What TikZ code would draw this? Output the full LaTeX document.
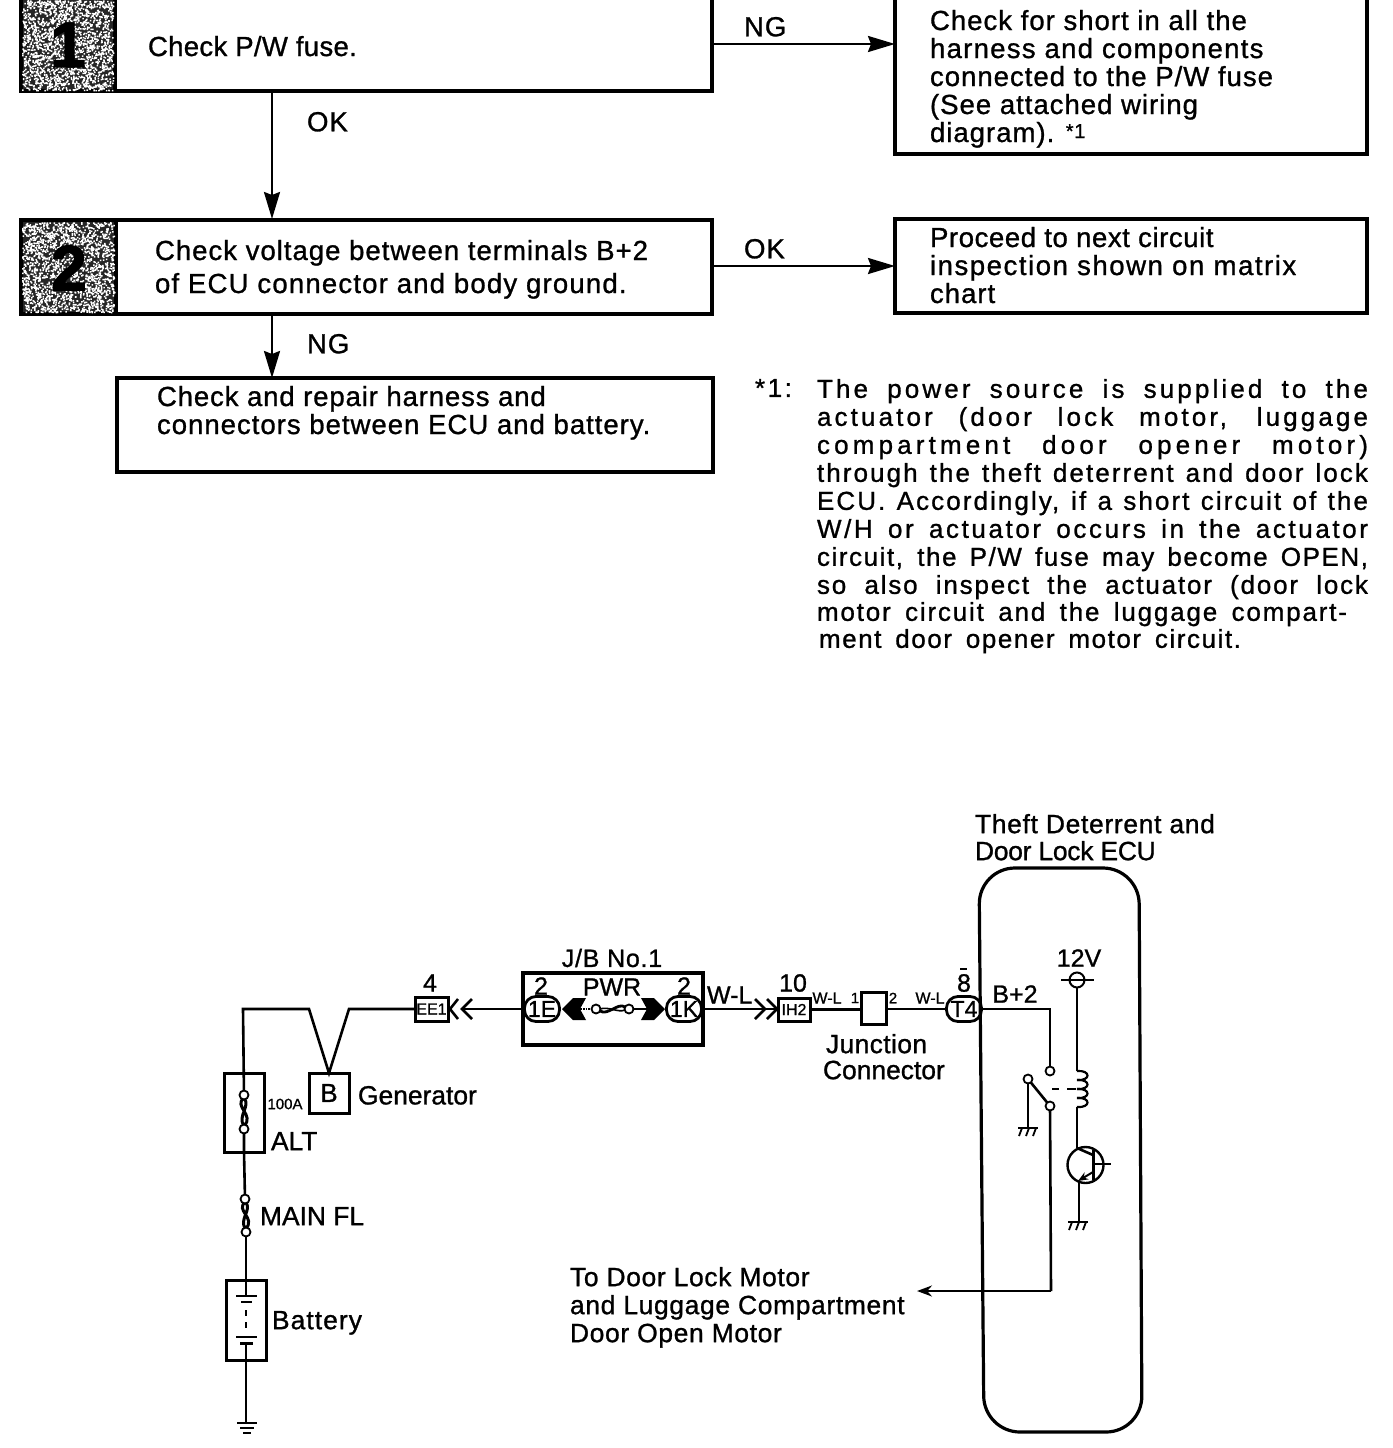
\documentclass[tikz,border=0pt]{standalone}
\usepackage{fontspec}
\setmainfont[FakeBold=1.0]{Liberation Sans}
\usetikzlibrary{arrows.meta}
\newcommand{\jl}[3][551pt]{\makebox[#1][s]{\addfontfeature{LetterSpace=#2}#3}}
\newcommand{\trk}[2]{{\addfontfeature{LetterSpace=#1}#2}}
\newcommand{\vfuse}[3]{\draw[fusecurve] (#1,#2) .. controls (#1-11,#2+8) and (#1+11,#3-11) .. (#1,#3) (#1,#2) .. controls (#1+7,#2+8) and (#1-7,#3-10) .. (#1,#3);}
\newcommand{\hatchg}[2]{\draw[thin wire] (#1-10,#2) -- (#1+10,#2);
  \foreach \d in {-6,1,8}{\draw[thin wire] (#1+\d,#2) -- (#1+\d-3,#2+8);}}
\newcommand{\speckle}[4]{\fill[white] \foreach \i in {1,...,#4} { ({#1+(#2)*rnd},{#3+90*rnd}) rectangle +(1.5,1.5) };}
\tikzset{
  x=1pt,y=-1pt,
  every node/.style={outer sep=0pt},
  wire/.style={line width=2.6pt},
  thin wire/.style={line width=1.8pt},
  fusecurve/.style={line width=3pt},
  flow/.style={line width=2.4pt,-{Stealth[length=27pt,width=16pt,inset=3pt]}},
  flowbox/.style={draw,line width=3.2pt,rectangle,inner sep=0pt,anchor=north west},
  greybox/.style={draw,line width=3.2pt,fill=black!85,rectangle,inner sep=0pt,anchor=north west},
  big/.style={inner sep=0pt,anchor=north west,align=left,font=\fontsize{27.6}{28}\selectfont\addfontfeature{LetterSpace=3.5}},
  lab/.style={inner sep=0pt,anchor=north west,align=left,font=\fontsize{26.4}{28}\selectfont},
  cen/.style={inner sep=0pt,font=\fontsize{25}{25}\selectfont},
  tiny/.style={inner sep=0pt,font=\fontsize{15}{15}\selectfont},
  conn/.style={draw,line width=3pt,rectangle,inner sep=0pt,font=\fontsize{16}{16}\selectfont},
  oval/.style={draw,line width=2.8pt,rectangle,rounded corners=11.5pt,minimum width=35pt,minimum height=25pt,inner sep=0pt,font=\fontsize{23}{23}\selectfont},
  term/.style={draw,circle,line width=1.8pt,fill=white,minimum size=9pt,inner sep=0pt},
  digit/.style={inner sep=0pt,font=\fontsize{64}{64}\selectfont\bfseries\addfontfeature{FakeBold=2}},
}
\begin{document}
\begin{tikzpicture}
\useasboundingbox (0,0) rectangle (1392,1448);
\pgfmathsetseed{7}
% flow boxes
\node[flowbox,minimum width=691pt,minimum height=101pt] (box1) at (21,-10) {};
\node[greybox,minimum width=94pt,minimum height=101pt] (num1) at (21,-10) {};
\speckle{22}{91}{0}{2000}
\node[digit] (n1) at (68,45) {1};
\node[big,font=\fontsize{27.6}{28}\selectfont\addfontfeature{LetterSpace=1}] (t1) at (148,36) {Check P/W fuse.};
\node[flowbox,minimum width=472pt,minimum height=164pt] (res1) at (895,-10) {};
\node[big] (t1r) at (930,10) {Check for short in all the\\\trk{4.5}{harness and components}\\connected to the P/W fuse\\(See attached wiring\\diagram). {\fontsize{20}{20}\selectfont\raisebox{4pt}{*1}}};
\node[flowbox,minimum width=691pt,minimum height=94pt] (box2) at (21,220) {};
\node[greybox,minimum width=95pt,minimum height=94pt] (num2) at (21,220) {};
\speckle{22}{92}{222}{2000}
\node[digit] (n2) at (69,268) {2};
\node[big,font=\fontsize{27.6}{33}\selectfont\addfontfeature{LetterSpace=3.5}] (t2) at (155,240) {Check voltage between terminals B+2\\\trk{4.2}{of ECU connector and body ground.}};
\node[flowbox,minimum width=472pt,minimum height=94pt] (res2) at (895,219) {};
\node[big] (t2r) at (930,227) {\trk{2}{Proceed to next circuit}\\\trk{5.5}{inspection shown on matrix}\\chart};
\node[flowbox,minimum width=596pt,minimum height=94pt] (box3) at (117,378) {};
\node[big] (t3) at (157,386) {\trk{3}{Check and repair harness and}\\connectors between ECU and battery.};
% flow arrows
\coordinate (a1s) at (272,91);
\coordinate (a1e) at (272,219);
\coordinate (a2s) at (272,314);
\coordinate (a2e) at (272,378);
\coordinate (a3s) at (712,44);
\coordinate (a3e) at (895,44);
\coordinate (a4s) at (712,266);
\coordinate (a4e) at (895,266);
\draw[flow] (a1s) -- (a1e);
\draw[flow] (a2s) -- (a2e);
\draw[flow] (a3s) -- (a3e);
\draw[flow] (a4s) -- (a4e);
\node[big] (l1) at (307,112) {OK};
\node[big] (l2) at (307,334) {NG};
\node[big] (l3) at (744,17) {NG};
\node[big] (l4) at (744,239) {OK};
% footnote
\node[big,font=\fontsize{26}{28}\selectfont] (fnm) at (755,379) {\addfontfeature{LetterSpace=10}*1:};
\node[big,font=\fontsize{26}{28}\selectfont] (fn) at (817,379) {%
\jl{12}{The power source is supplied to the}\\
\jl{12}{actuator (door lock motor, luggage}\\
\jl{16}{compartment door opener motor)}\\
\jl{8}{through the theft deterrent and door lock}\\
\jl{8}{ECU. Accordingly, if a short circuit of the}\\
\jl{10}{W/H or actuator occurs in the actuator}\\
\jl{6}{circuit, the P/W fuse may become OPEN,}\\
\jl{7}{so also inspect the actuator (door lock}\\[-1pt]
\jl[530pt]{7}{motor circuit and the luggage compart-}\\[-1pt]
\hspace*{2pt}\jl[422pt]{6}{ment door opener motor circuit.}};
% wiring: left side
\node[lab] (ttl) at (975,814) {\trk{2.6}{Theft Deterrent and}\\[-1pt]\trk{-1}{Door Lock ECU}};
\coordinate (etl) at (979,868);
\coordinate (etr) at (1139,868);
\coordinate (ebr) at (1142,1432);
\coordinate (ebl) at (984,1432);
\draw[line width=3.2pt,rounded corners=36pt] (etl) -- (etr) -- (ebr) -- (ebl) -- cycle;
\node[conn,minimum width=40pt,minimum height=40pt,font=\fontsize{26}{26}\selectfont,anchor=north west] (gen) at (309,1073) {B};
\node[lab] (gent) at (358,1086) {Generator};
\node[conn,minimum width=40pt,minimum height=79pt,anchor=north west] (alt) at (224,1073) {};
\node[tiny] (a100) at (285,1104) {100A};
\node[lab] (altt) at (271,1132) {ALT};
\vfuse{244}{1098}{1126}
\node[term] (fa1) at (244,1095) {};
\node[term] (fa2) at (244,1129) {};
\vfuse{245.5}{1202}{1229}
\node[term] (fm1) at (245,1199) {};
\node[term] (fm2) at (246,1232) {};
\node[lab] (mft) at (260,1207) {MAIN FL};
\node[conn,minimum width=40pt,minimum height=80pt,anchor=north west] (bat) at (226,1280) {};
\node[lab] (batt) at (272,1311) {\trk{4}{Battery}};
\coordinate (wl) at (243,1009);
\coordinate (wv1) at (309,1009);
\coordinate (wv2) at (349,1009);
\draw[wire] (fa1) -- (wl) -- (wv1) -- (gen.north) -- (wv2) -- (415,1009);
\draw[wire] (fa2) -- (alt.south -| fa2) -- (fm1);
\draw[wire] (fm2) -- (bat.north);
\coordinate (pl1) at (246,1296);
\coordinate (pl2) at (246,1343);
\coordinate (gnd) at (246,1423);
\draw[wire] (bat.north) -- (pl1);
\draw[line width=2.4pt] (236,1296) -- (257,1296);
\draw[line width=2.4pt] (241,1302) -- (252,1302);
\draw[line width=1.6pt] (246,1310) -- (246,1316) (246,1322) -- (246,1328);
\draw[line width=2.4pt] (236,1337) -- (257,1337);
\draw[line width=3pt] (240,1343) -- (253,1343);
\draw[wire] (pl2) -- (gnd);
\draw[line width=2.2pt] (237,1423) -- (257,1423) (240,1428) -- (254,1428) (243,1433) -- (251,1433);
\node[conn,minimum width=33pt,minimum height=24pt] (ee1) at (431.5,1009) {EE1};
\node[cen] (n4) at (430,983) {4};
\coordinate (chl) at (462,1009);
\draw[wire] (458,999) -- (450,1009) -- (458,1019);
\draw[wire] (472,999) -- (chl) -- (472,1019);
% J/B
\node[cen] (jbt) at (612,958) {\trk{3}{J/B No.1}};
\node[draw,line width=3.2pt,rectangle,minimum width=180pt,minimum height=72pt,inner sep=0pt,anchor=north west] (jb) at (523,973) {};
\node[oval] (e1) at (542,1009) {1E};
\node[oval] (k1) at (684,1009) {1K};
\node[cen] (j21) at (541,986) {2};
\node[cen] (j22) at (684,986) {2};
\node[cen] (pwr) at (612,987) {PWR};
\draw[wire] (chl) -- (e1.west);
\fill (562,1009) -- (573,998) -- (586,998) -- (580,1009) -- (586,1020) -- (573,1020) -- cycle;
\fill (665,1009) -- (654,998) -- (641,998) -- (647,1009) -- (641,1020) -- (654,1020) -- cycle;
\node[term] (p1) at (596,1009) {};
\node[term] (p2) at (629,1009) {};
\draw[thin wire,densely dotted] (580,1009) -- (p1);
\draw[thin wire] (p2) -- (647,1009);
\draw[line width=2.8pt] (600,1011) .. controls (608,1016) and (618,1002) .. (625,1007);
\draw[line width=1.6pt] (600,1009) .. controls (608,1006) and (618,1013) .. (625,1010);
% right of J/B
\node[cen,anchor=west] (wl1) at (707,995) {W-L};
\coordinate (chr) at (777,1009);
\draw[wire] (jb.east |- chr) -- (chr);
\draw[wire] (755,999) -- (765,1009) -- (755,1019);
\draw[wire] (767,999) -- (chr) -- (767,1019);
\node[conn,minimum width=32pt,minimum height=23pt] (ih2) at (794,1009.5) {IH2};
\node[cen] (n10) at (793,983) {10};
\node[tiny,font=\fontsize{16}{16}\selectfont] (wl2) at (827,998) {W-L};
\node[conn,minimum width=25pt,minimum height=32pt] (jc) at (873.5,1008) {};
\node[tiny] (jc1) at (855,998) {1};
\node[tiny] (jc2) at (893,998) {2};
\node[tiny,font=\fontsize{16}{16}\selectfont] (wl3) at (930,998) {W-L};
\node[oval] (t4) at (964,1009) {T4};
\node[cen] (n8) at (964,983) {8};
\draw[line width=1.4pt] (960,969) -- (967,969);
\draw[wire] (ih2.east) -- (jc.west |- ih2.east);
\draw[thin wire] (jc.east |- t4.west) -- (t4.west);
\node[lab,font=\fontsize{26.4}{26}\selectfont] (jct) at (823,1034) {\hspace*{3pt}\trk{1.5}{Junction}\\Connector};
\node[cen] (bp2) at (1015,994) {B+2};
\node[term] (c1) at (1050,1071) {};
\node[term] (c2) at (1028,1079) {};
\node[term] (c3) at (1050,1106) {};
\coordinate (bc) at (1050,1009);
\draw[wire] (t4.east) -- (bc) -- (c1);
\draw[wire] (c2) -- (c3);
\coordinate (g1) at (1028,1128);
\draw[wire] (c2) -- (g1);
\hatchg{1028}{1128}
\draw[thin wire] (1052,1089) -- (1059,1089) (1067,1089) -- (1076,1089);
\coordinate (bend) at (1051,1291);
\coordinate (arr) at (917,1291);
\draw[wire] (c3) -- (bend);
\draw[line width=2.2pt,-{Stealth[length=15pt,width=11pt]}] (bend) -- (arr);
\node[lab] (door) at (570,1267) {\trk{2.5}{To Door Lock Motor}\\\trk{2.5}{and Luggage Compartment}\\\trk{2.5}{Door Open Motor}};
% 12V + coil + transistor
\node[cen] (v12) at (1079,958) {12V};
\node[draw,circle,line width=2pt,minimum size=15pt,inner sep=0pt] (vs) at (1077,980) {};
\draw[thin wire] (1061,980) -- (1094,980);
\coordinate (ctop) at (1077,1071);
\draw[wire] (vs) -- (ctop);
\foreach \yy in {1071,1080,1089,1098}{
  \draw[line width=2.2pt] (1077,\yy) .. controls (1091,\yy-1) and (1091,\yy+10) .. (1077,\yy+9);
}
\coordinate (cbot) at (1077,1107);
\node[draw,circle,line width=2.4pt,minimum size=36pt,inner sep=0pt] (tr) at (1085.5,1165) {};
\draw[wire] (cbot) -- (1077,1148);
\draw[wire] (1077,1148) -- (1093,1155);
\draw[line width=3pt] (1093,1150) -- (1093,1180);
\coordinate (bl) at (1111,1164);
\draw[thin wire] (1093,1164) -- (bl);
\draw[line width=2pt,-{Stealth[length=10pt,width=8pt]}] (1093,1172) -- (1078,1181);
\coordinate (g2) at (1079,1222);
\draw[thin wire] (1079,1181) -- (g2);
\hatchg{1078}{1222}
\end{tikzpicture}
\end{document}
